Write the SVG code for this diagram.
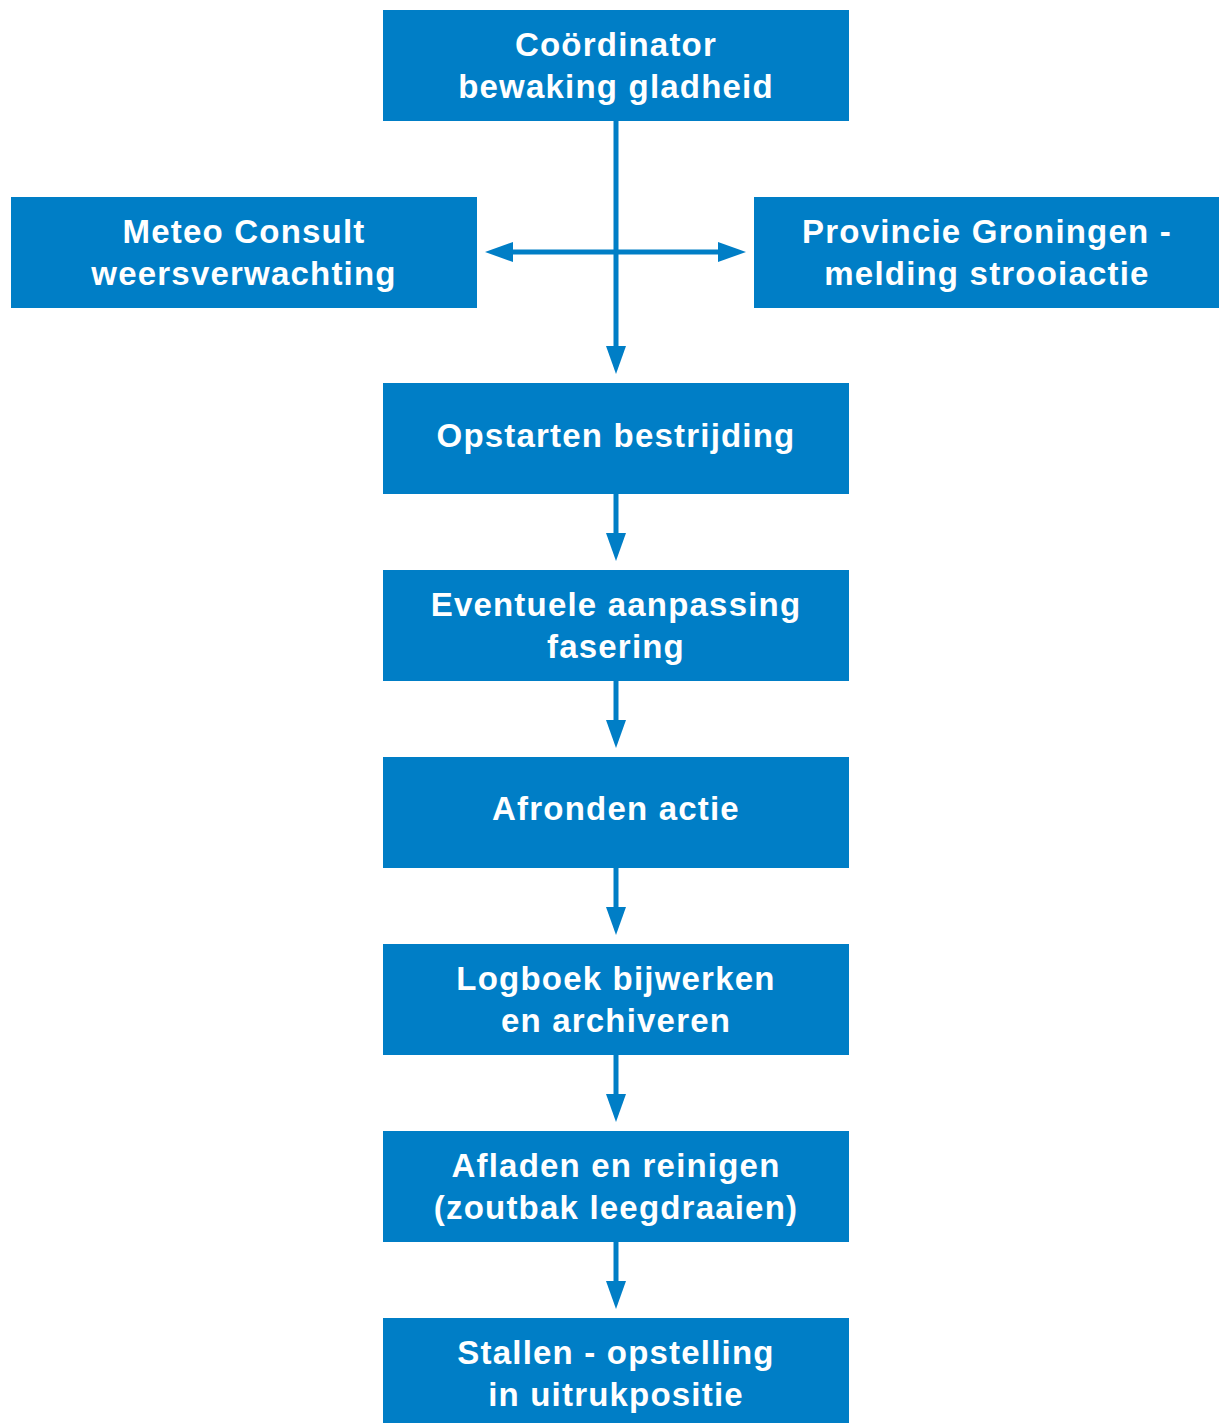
<svg xmlns="http://www.w3.org/2000/svg" width="1219" height="1423" viewBox="0 0 1219 1423">
<style>
.box{fill:#007EC6}
.t{font-family:"Liberation Sans",Arial,sans-serif;font-weight:bold;font-size:33px;fill:#fff;text-anchor:middle;letter-spacing:1.2px}
.c{stroke:#007EC6;stroke-width:5;fill:none}
.h{fill:#007EC6}
</style>
<rect width="1219" height="1423" fill="#fff"/>
<g id="connectors">
<line class="c" x1="616" y1="121" x2="616" y2="350"/>
<polygon class="h" points="606,346 626,346 616,374"/>
<line class="c" x1="510" y1="252" x2="722" y2="252"/>
<polygon class="h" points="485,252 513,242 513,262"/>
<polygon class="h" points="746,252 718,242 718,262"/>
<line class="c" x1="616" y1="494" x2="616" y2="537"/>
<polygon class="h" points="606,533 626,533 616,561"/>
<line class="c" x1="616" y1="681" x2="616" y2="724"/>
<polygon class="h" points="606,720 626,720 616,748"/>
<line class="c" x1="616" y1="868" x2="616" y2="911"/>
<polygon class="h" points="606,907 626,907 616,935"/>
<line class="c" x1="616" y1="1055" x2="616" y2="1098"/>
<polygon class="h" points="606,1094 626,1094 616,1122"/>
<line class="c" x1="616" y1="1242" x2="616" y2="1285"/>
<polygon class="h" points="606,1281 626,1281 616,1309"/>
</g>
<g id="n1"><rect class="box" x="383" y="10" width="466" height="111"/><text class="t" x="616" y="56">Coördinator</text><text class="t" x="616" y="98">bewaking gladheid</text></g>
<g id="n2"><rect class="box" x="11" y="197" width="466" height="111"/><text class="t" x="244" y="243">Meteo Consult</text><text class="t" x="244" y="285">weersverwachting</text></g>
<g id="n3"><rect class="box" x="754" y="197" width="465" height="111"/><text class="t" x="987" y="243">Provincie Groningen -</text><text class="t" x="987" y="285">melding strooiactie</text></g>
<g id="n4"><rect class="box" x="383" y="383" width="466" height="111"/><text class="t" x="616" y="447">Opstarten bestrijding</text></g>
<g id="n5"><rect class="box" x="383" y="570" width="466" height="111"/><text class="t" x="616" y="616">Eventuele aanpassing</text><text class="t" x="616" y="658">fasering</text></g>
<g id="n6"><rect class="box" x="383" y="757" width="466" height="111"/><text class="t" x="616" y="820">Afronden actie</text></g>
<g id="n7"><rect class="box" x="383" y="944" width="466" height="111"/><text class="t" x="616" y="990">Logboek bijwerken</text><text class="t" x="616" y="1032">en archiveren</text></g>
<g id="n8"><rect class="box" x="383" y="1131" width="466" height="111"/><text class="t" x="616" y="1177">Afladen en reinigen</text><text class="t" x="616" y="1219">(zoutbak leegdraaien)</text></g>
<g id="n9"><rect class="box" x="383" y="1318" width="466" height="111"/><text class="t" x="616" y="1364">Stallen - opstelling</text><text class="t" x="616" y="1406">in uitrukpositie</text></g>
</svg>
